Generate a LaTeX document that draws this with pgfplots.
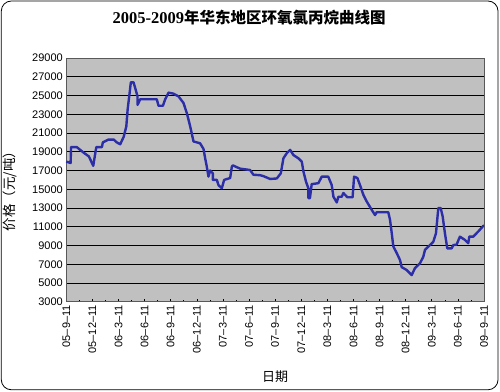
\documentclass[border=0pt]{standalone}
\usepackage{fontspec}
\setmainfont{Liberation Sans}
\newfontfamily\cjk{Noto Sans CJK SC}
\newfontfamily\cjkb{Noto Sans CJK SC Bold}
\newfontfamily\serifb{Liberation Serif}
\usepackage{pgfplots}
\pgfplotsset{compat=1.18}
\definecolor{linecol}{RGB}{44,46,168}
\definecolor{plotbg}{RGB}{192,192,192}
\begin{document}
\begin{tikzpicture}[x=1bp,y=1bp]
\path (0,0) rectangle (500,392);
\draw[black, line width=0.8bp, rounded corners=10bp] (1,2) rectangle (498,391);
\node at (249,374) {\serifb\bfseries\fontsize{16.5bp}{18bp}\selectfont 2005-2009\cjkb\fontsize{15.5bp}{18bp}\selectfont 年华东地区环氧氯丙烷曲线图};
\node[rotate=90] at (10,204) {\cjk\fontsize{13.5bp}{15bp}\selectfont 价格（元/吨）};
\node at (275,15) {\cjk\fontsize{13bp}{15bp}\selectfont 日期};
\begin{axis}[
  at={(66bp,90bp)}, anchor=south west,
  scale only axis, width=418bp, height=244bp,
  xmin=0, xmax=48, ymin=3000, ymax=29000,
  axis background/.style={fill=plotbg},
  axis line style={draw=gray!70!black, line width=0.8bp},
  ytick={3000,5000,...,29000},
  ymajorgrids, grid style={black, line width=0.8bp},
  xtick={0,3,...,48},
  xticklabels={05--9--11,05--12--11,06--3--11,06--6--11,06--9--11,06--12--11,07--3--11,07--6--11,07--9--11,07--12--11,08--3--11,08--6--11,08--9--11,08--12--11,09--3--11,09--6--11,09--9--11},
  minor xtick={1.5,4.5,...,46.5},
  tick style={draw=black, line width=0.6bp},
  major tick length=3bp, minor tick length=1.5bp,
  xtick pos=bottom, ytick pos=left,
  ytick style={draw=none},
  x tick label style={rotate=90, anchor=east, font=\fontsize{11bp}{12bp}\selectfont},
  y tick label style={font=\fontsize{11bp}{12bp}\selectfont},
  /pgf/number format/assume math mode=true,
  /pgf/number format/1000 sep={},
  scaled y ticks=false,
  clip=false,
]
\addplot[linecol, line width=2.4bp, line join=round] coordinates {
(0.0,17950) (0.5,17800) (0.55,19500) (1.2,19500) (2.0,18900) (2.6,18500) (3.1,17500)
(3.45,19500) (4.1,19500) (4.2,20000) (4.85,20300) (5.45,20300) (5.8,20000) (6.2,19800)
(6.6,20600) (6.9,21700) (7.05,23500) (7.27,25200) (7.42,26400) (7.73,26400) (7.92,25800)
(8.19,24900) (8.19,24000) (8.5,24600) (10.4,24600) (10.6,23900) (11.1,23900) (11.37,24600)
(11.75,25300) (12.3,25200) (12.9,24900) (13.47,24200) (13.86,23100) (14.24,21700) (14.62,20100)
(15.38,19900) (15.77,19300) (15.96,18300) (16.15,17400) (16.34,16350) (16.53,17000) (16.84,16700)
(16.84,16000) (17.3,16000) (17.49,15450) (17.87,15100) (18.14,16000) (18.83,16200) (19.02,17400)
(19.14,17550) (19.6,17350) (19.98,17200) (21.13,17050) (21.5,16550) (22.27,16500) (22.65,16400)
(23.42,16100) (24.19,16150) (24.65,16700) (24.95,18300) (25.34,18850) (25.72,19200) (26.1,18650)
(26.67,18300) (27.06,17950) (27.25,16900) (27.55,15800) (27.82,15100) (27.82,14050) (28.0,14050)
(28.2,15550) (28.97,15650) (29.36,16350) (30.1,16350) (30.5,15450) (30.7,14200) (31.08,13600)
(31.27,14200) (31.65,14200) (31.84,14600) (32.3,14150) (32.9,14150) (33.07,16350) (33.45,16200)
(33.75,15450) (34.14,14400) (34.52,13700) (35.1,12800) (35.48,12250) (35.67,12550) (37.0,12550)
(37.2,11750) (37.4,10300) (37.58,8900) (37.97,8200) (38.35,7450) (38.54,6700) (39.1,6400)
(39.69,5850) (40.07,6600) (40.64,7100) (41.02,7800) (41.22,8550) (41.79,9050) (42.17,9400)
(42.48,10300) (42.75,13000) (43.02,13000) (43.25,12100) (43.51,10300) (43.78,8700) (44.28,8700)
(44.47,9050) (44.85,9100) (45.23,9950) (45.81,9600) (46.19,9250) (46.31,9950) (46.77,9950)
(47.34,10500) (47.92,11100) (48,11100)
};
\end{axis}
\end{tikzpicture}
\end{document}
